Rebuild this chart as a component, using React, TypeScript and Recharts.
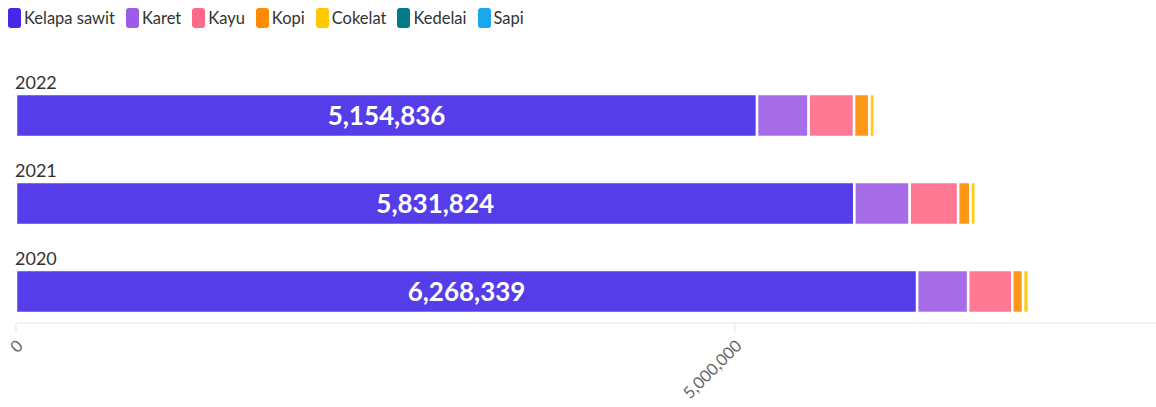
import React from 'react';
import { BarChart, Bar, XAxis, YAxis, LabelList } from 'recharts';

const years = ['2022', '2021', '2020'];
const kelapaSawit = [5154836, 5831824, 6268339];
const karet = [359000, 385000, 355000];
const kayu = [316000, 337000, 307000];
const kopi = [107000, 86000, 75000];
const cokelat = [38000, 38000, 42000];
const kedelai = [2500, 2500, 2500];
const sapi = [1200, 1200, 1200];

const xTicks = [0, 5000000];
const xMax = 7930000;

const seriesList = [
  { key: 'kelapaSawit', name: 'Kelapa sawit', color: '#4328e7', values: kelapaSawit },
  { key: 'karet', name: 'Karet', color: '#9d5ce6', values: karet },
  { key: 'kayu', name: 'Kayu', color: '#ff6a88', values: kayu },
  { key: 'kopi', name: 'Kopi', color: '#ff8c00', values: kopi },
  { key: 'cokelat', name: 'Cokelat', color: '#ffc800', values: cokelat },
  { key: 'kedelai', name: 'Kedelai', color: '#007b87', values: kedelai },
  { key: 'sapi', name: 'Sapi', color: '#1aa7ee', values: sapi },
];

const chartData = years.map((year, i) => {
  const row: Record<string, string | number> = { year };
  seriesList.forEach((s) => {
    row[s.key] = s.values[i];
  });
  return row;
});

const FONT = 'Lato, "Noto Sans", sans-serif';
const MARGIN = { top: 59, right: 0, bottom: 24, left: 16 };

// libellé de l'année posé au-dessus de chaque barre
const YearLabel = (props: any) => {
  const { x, y, value } = props;
  return (
    <text x={x - 1} y={y - 12} fill="#333" fontSize={18} fontFamily={FONT} textAnchor="start" dominantBaseline="central">
      {value}
    </text>
  );
};

const ValueTick = (props: any) => {
  const { x, y, payload } = props;
  return (
    <g transform={`translate(${x + 8},${y + 12})`}>
      <text transform="rotate(-45)" textAnchor="end" fill="#666" fontSize={16.5} fontFamily={FONT}>
        {Number(payload.value).toLocaleString('en-US')}
      </text>
    </g>
  );
};

const App = () => {
  return (
    <div style={{ position: 'relative', width: 1156, height: 407, fontFamily: FONT, background: '#fff' }}>
      <style>{'body{margin:0}'}</style>
      <div style={{ position: 'absolute', top: 8, left: 8, display: 'flex', alignItems: 'center', height: 20 }}>
        {seriesList.map((s) => (
          <div key={s.key} style={{ display: 'flex', alignItems: 'center', marginRight: 11 }}>
            <span style={{ width: 13, height: 20, borderRadius: 3, background: s.color, display: 'inline-block', marginRight: 3 }} />
            <span style={{ fontSize: 16.5, color: '#333', lineHeight: '20px' }}>{s.name}</span>
          </div>
        ))}
      </div>
      <div style={{ position: 'absolute', top: 0, left: 0 }}>
        <BarChart width={1156} height={407} data={chartData} layout="vertical" margin={MARGIN} barSize={43}>
          <XAxis
            type="number"
            domain={[0, xMax]}
            ticks={xTicks}
            interval={0}
            height={60}
            tickSize={10}
            axisLine={{ stroke: '#e8e8e8' }}
            tickLine={{ stroke: '#e2e2e2' }}
            tick={<ValueTick />}
          />
          <YAxis
            type="category"
            dataKey="year"
            hide
            padding={{ top: 12, bottom: -12 }}
          />
          {seriesList.map((s, idx) => (
            <Bar
              key={s.key}
              dataKey={s.key}
              name={s.name}
              stackId="a"
              fill={s.color}
              fillOpacity={0.9}
              stroke="#ffffff"
              strokeWidth={2.5}
              isAnimationActive={false}
            >
              {idx === 0 && <LabelList dataKey="year" content={<YearLabel />} />}
              {idx === 0 && (
                <LabelList
                  dataKey={s.key}
                  position="center"
                  fill="#ffffff"
                  fontSize={26}
                  fontWeight={700}
                  fontFamily={FONT}
                  formatter={(v: any) => Number(v).toLocaleString('en-US')}
                />
              )}
            </Bar>
          ))}
        </BarChart>
      </div>
    </div>
  );
};

export default App;
